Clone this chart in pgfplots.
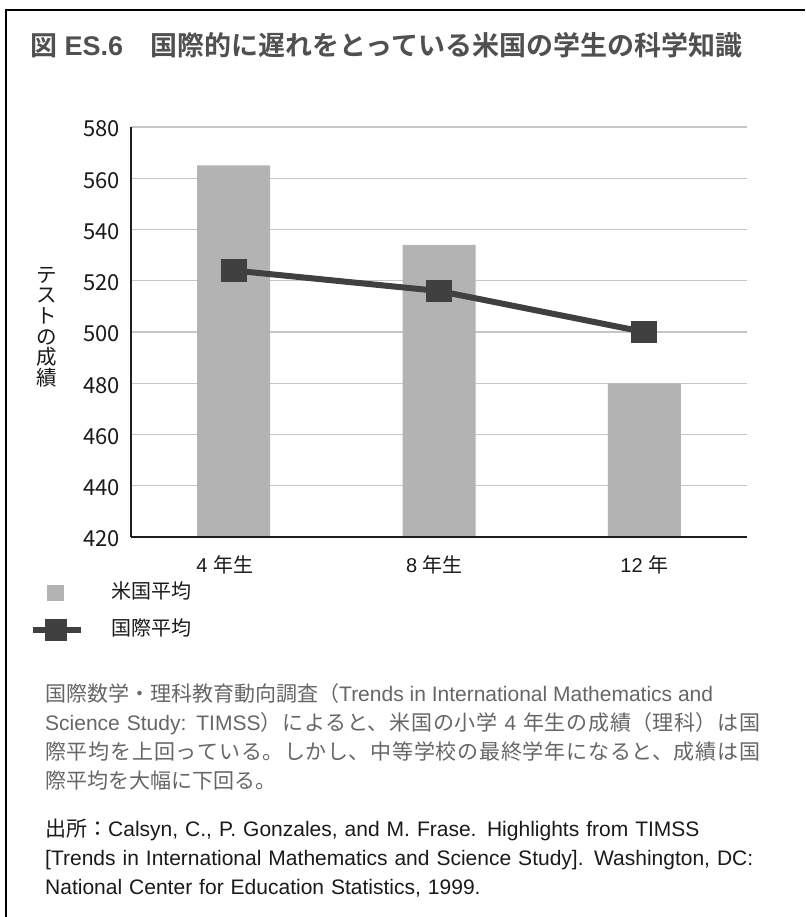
\documentclass[border=0pt]{standalone}
\usepackage{fontspec}
\setmainfont{Liberation Sans}
\newfontfamily\jp{Noto Sans CJK JP}[BoldFont={Noto Sans CJK JP Bold}]
\usepackage{pgfplots}
\pgfplotsset{compat=1.18}

\definecolor{barGray}{HTML}{B3B3B3}
\definecolor{lineGray}{HTML}{404040}
\definecolor{gridGray}{HTML}{C6C6C6}
\definecolor{axisC}{HTML}{1E1E1E}
\definecolor{titleC}{HTML}{505050}
\definecolor{paraC}{HTML}{666666}
\definecolor{textC}{HTML}{1A1A1A}

\newcommand{\J}[1]{{\jp #1}}

\begin{document}
\begin{tikzpicture}
\useasboundingbox (0pt,0pt) rectangle (805pt,-917pt);
\fill[white] (0pt,0pt) rectangle (805pt,-917pt);
\draw[line width=2pt, black] (6pt,-917pt) -- (6pt,-10pt) -- (805pt,-10pt);

% title
\node[anchor=base west, inner sep=0pt, text=titleC,
      font=\fontsize{27}{31}\selectfont\bfseries] at (30pt,-56pt)
  {\J{図} ES.6\J{　国際的に遅れをとっている米国の学生の科学知識}};

\begin{axis}[
    at={(131pt,-537pt)}, anchor=south west,
    width=616pt, height=410pt, scale only axis,
    xmin=-0.5, xmax=2.5,
    ymin=420, ymax=580,
    ytick={420,440,...,580},
    xtick={0,1,2},
    xticklabels={\hspace*{-18pt}4 \J{年生}, \hspace*{-9pt}8 \J{年生}, 12 \J{年}},
    major tick length=0pt,
    axis x line*=bottom, axis y line*=left,
    axis line style={draw=axisC, line width=1.5pt},
    ymajorgrids,
    major grid style={draw=gridGray, line width=1.2pt},
    /pgf/number format/assume math mode=true,
    yticklabel style={font=\jp\fontsize{22}{26}\selectfont, text=textC,
        inner sep=0pt, xshift=-11pt, yshift=-2pt},
    xticklabel style={font=\fontsize{20}{24}\selectfont, text=textC,
        inner sep=0pt, text height=15pt, text depth=5pt, yshift=-20pt},
    ylabel={テ\\ス\\ト\\の\\成\\績},
    ylabel style={at={(rel axis cs:-0.136,0.512)}, anchor=center, rotate=-90,
        align=center, font=\jp\fontsize{20.5}{20.7}\selectfont, text=textC},
    legend style={at={(rel axis cs:-0.164,-0.112)}, anchor=north west,
        draw=none, fill=none, inner sep=0pt, row sep=16pt, column sep=27pt,
        font=\jp\fontsize{20}{24}\selectfont, text=textC,
        nodes={inner sep=0pt, text height=15pt, text depth=5pt}},
    legend cell align=left,
]
\addplot[ybar, bar width=73pt, bar shift=0pt, fill=barGray, draw=none,
    legend image code/.code={
        \path[draw=none, fill=none] (0pt,-1pt) rectangle (48pt,1pt);
        \fill[barGray] (14pt,-8pt) rectangle (31pt,8pt);}]
  coordinates {(0,565) (1,534) (2,480)};
\addlegendentry{米国平均}

\addplot[draw=lineGray, line width=6pt, mark=square*, mark size=10pt,
    mark options={fill=lineGray, draw=none, yscale=0.82},
    legend image code/.code={
        \draw[lineGray, line width=6pt] (0pt,0pt) -- (48pt,0pt);
        \fill[lineGray] (15pt,-8pt) rectangle (31pt,8pt);}]
  coordinates {(0,524) (1,516) (2,500)};
\addlegendentry{国際平均}

\draw[axisC, line width=1.5pt] (rel axis cs:0,0) -- (rel axis cs:1,0);
\end{axis}

% caption
\node[anchor=base west, inner sep=0pt, text width=715pt, align=justify,
      text=paraC, font=\fontsize{21}{29}\selectfont] at (45pt,-701pt)
  {\XeTeXlinebreaklocale "ja"\XeTeXlinebreakskip=0pt plus 2pt\relax
   \J{国際数学・理科教育動向調査（}Trends in International Mathematics and\\
   Science Study: TIMSS\J{）によると、米国の小学} 4 \J{年生の成績（理科）は国}\linebreak
   \J{際平均を上回っている。しかし、中等学校の最終学年になると、成績は国}\linebreak
   \J{際平均を大幅に下回る。}};

% source
\node[anchor=base west, inner sep=0pt, text width=740pt, align=left,
      text=textC, font=\fontsize{21}{29}\selectfont] at (45pt,-836pt)
  {\J{出所：}Calsyn, C., P. Gonzales, and M. Frase. Highlights from TIMSS\\
   {[}Trends in International Mathematics and Science Study{]}. Washington, DC:\\
   National Center for Education Statistics, 1999.};
\end{tikzpicture}
\end{document}
